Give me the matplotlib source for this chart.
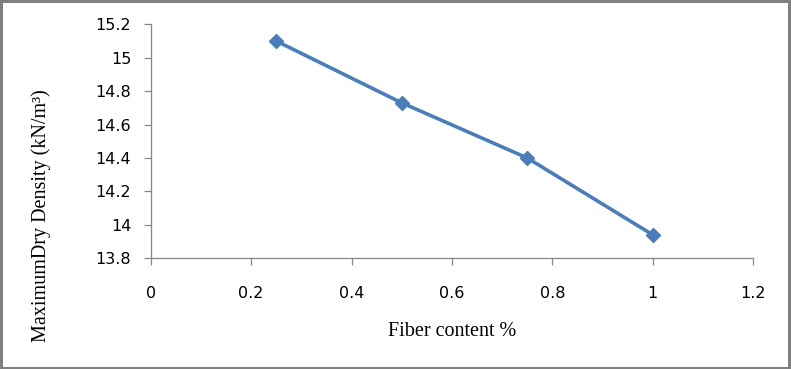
import matplotlib
matplotlib.use("Agg")
import matplotlib.pyplot as plt
from matplotlib.patches import Rectangle

# fiber content (%) vs maximum dry density
fiber = [0.25, 0.5, 0.75, 1.0]
mdd = [15.10, 14.73, 14.40, 13.94]

xticks = [0, 0.2, 0.4, 0.6, 0.8, 1.0, 1.2]
xtick_labels = ["0", "0.2", "0.4", "0.6", "0.8", "1", "1.2"]
yticks = [13.8, 14.0, 14.2, 14.4, 14.6, 14.8, 15.0, 15.2]
ytick_labels = ["13.8", "14", "14.2", "14.4", "14.6", "14.8", "15", "15.2"]

W, H = 791, 369
fig = plt.figure(figsize=(W / 100, H / 100), dpi=100)
ax = fig.add_axes([150.7 / W, 1 - 258.3 / H, (753.3 - 150.7) / W, (258.3 - 24.3) / H])

ax.plot(fiber, mdd, color="#4a7ebb", lw=2.6, marker="D", ms=7,
        markerfacecolor="#4a7ebb", markeredgecolor="#4a7ebb", clip_on=False)

ax.set_xlim(0, 1.2)
ax.set_ylim(13.8, 15.2)
ax.set_xticks(xticks)
ax.set_xticklabels(xtick_labels)
ax.set_yticks(yticks)
ax.set_yticklabels(ytick_labels)

for s in ["top", "right"]:
    ax.spines[s].set_visible(False)
for s in ["left", "bottom"]:
    ax.spines[s].set_color("#868686")
    ax.spines[s].set_linewidth(0.9)

ax.tick_params(axis="both", colors="#868686", length=5, width=0.9, labelcolor="black",
               labelsize=11.5)
ax.tick_params(axis="x", pad=15)
ax.tick_params(axis="y", pad=9)

fig.text(452 / W, 1 - 331 / H, "Fiber content %", family="Liberation Serif",
         fontsize=14.5, ha="center", va="center")
fig.text(41 / W, 1 - 216 / H, "MaximumDry Density (kN/m³)", family="Liberation Serif",
         fontsize=14.5, ha="center", va="center", rotation=90)

# grey outer frame
fig.patches.append(Rectangle((0.001, 0.002), 0.997, 0.995, transform=fig.transFigure,
                             fill=False, edgecolor="#808080", lw=2.2))

fig.savefig("out.png", dpi=100)
